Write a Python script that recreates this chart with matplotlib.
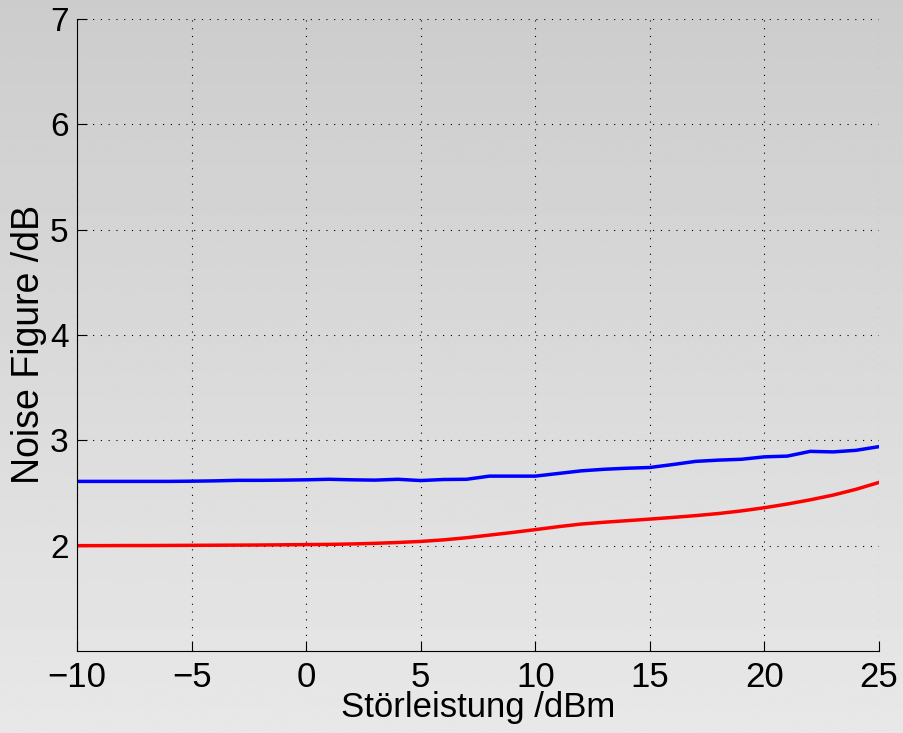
import numpy as np
import matplotlib
matplotlib.use("Agg")
import matplotlib.pyplot as plt

# Stoerleistung in dBm
p_dbm = [-10, -9, -8, -7, -6, -5, -4, -3, -2, -1, 0, 1, 2, 3, 4, 5, 6, 7,
         8, 9, 10, 11, 12, 13, 14, 15, 16, 17, 18, 19, 20, 21, 22, 23, 24, 25]

# noise figure in dB
nf_blue = [2.61, 2.61, 2.61, 2.61, 2.61, 2.612, 2.615, 2.62, 2.62, 2.622,
           2.625, 2.63, 2.625, 2.622, 2.63, 2.618, 2.628, 2.63, 2.66, 2.66,
           2.66, 2.685, 2.71, 2.725, 2.735, 2.742, 2.77, 2.80, 2.812, 2.82,
           2.843, 2.85, 2.895, 2.89, 2.905, 2.94]
nf_red = [2.00, 2.00, 2.001, 2.001, 2.002, 2.003, 2.004, 2.005, 2.006, 2.008,
          2.01, 2.012, 2.016, 2.022, 2.03, 2.04, 2.055, 2.075, 2.10, 2.125,
          2.152, 2.18, 2.205, 2.222, 2.237, 2.252, 2.268, 2.285, 2.305, 2.33,
          2.36, 2.395, 2.435, 2.48, 2.535, 2.60]

xticks = [-10, -5, 0, 5, 10, 15, 20, 25]
yticks = [2, 3, 4, 5, 6, 7]

plt.rcParams['font.family'] = ['Liberation Sans', 'DejaVu Sans']

fig = plt.figure(figsize=(9.04, 7.33), dpi=100)

# grauer Verlauf im Hintergrund (wie matlab export)
bg = fig.add_axes([0, 0, 1, 1], zorder=-10)
grad = np.linspace(0.80, 0.91, 256).reshape(-1, 1)
bg.imshow(grad, cmap='gray', vmin=0, vmax=1, aspect='auto', extent=[0, 1, 0, 1], origin='upper')
bg.axis('off')

ax = fig.add_axes([0.0852, 0.1119, 0.8871, 0.8622])
ax.patch.set_alpha(0)
ax.plot(p_dbm, nf_blue, color='#0000ff', lw=2.5)
ax.plot(p_dbm, nf_red, color='#ff0000', lw=2.5)

ax.set_xlim(-10, 25)
ax.set_ylim(1, 7)
ax.set_xticks(xticks)
ax.set_yticks(yticks)
ax.set_xticklabels([str(t).replace('-', '\u2212') for t in xticks])
ax.grid(True, color='black', linestyle=(0, (1, 6)), lw=0.8)
for s in ['top', 'right']:
    ax.spines[s].set_visible(False)
ax.tick_params(direction='in', length=7, labelsize=25, pad=7)
ax.tick_params(axis='y', labelsize=24, pad=6)
ax.set_xlabel('Störleistung /dBm', fontsize=25, labelpad=-2)
ax.set_ylabel('Noise Figure /dB', fontsize=27)
ax.yaxis.set_label_coords(-0.037, 0.485)

plt.savefig('out.png', dpi=100)
